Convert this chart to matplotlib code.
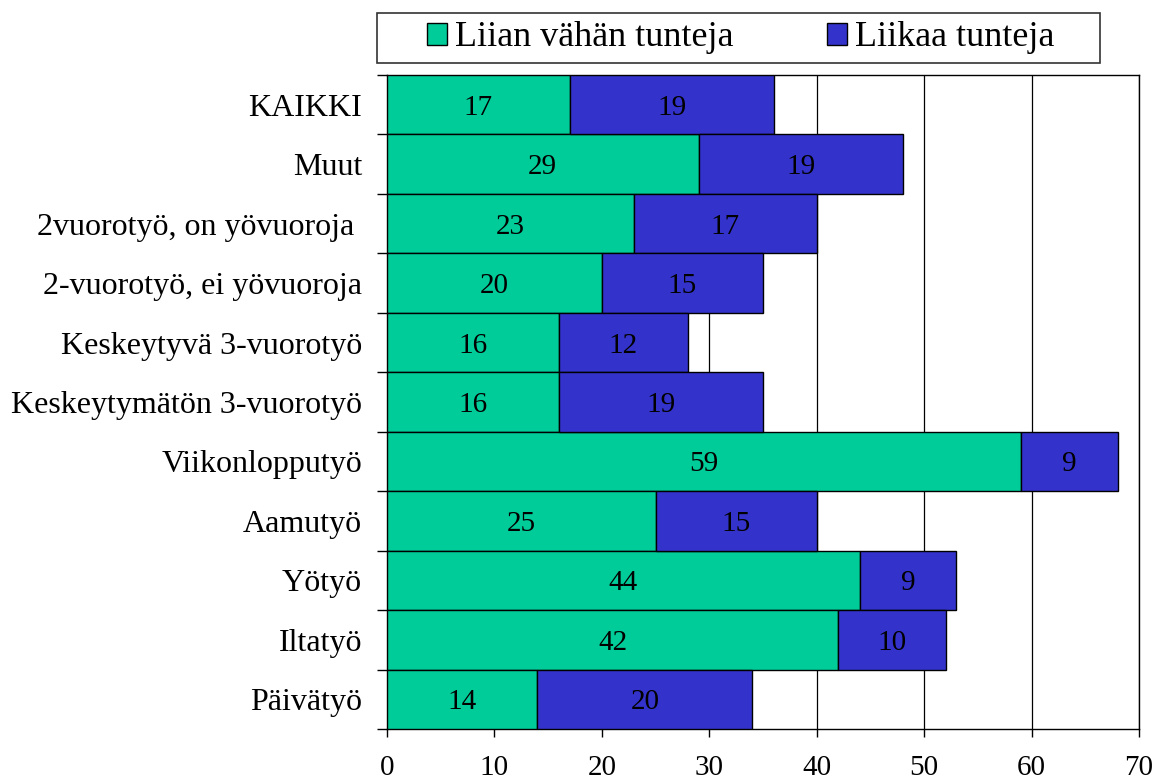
import matplotlib
matplotlib.use("Agg")
import matplotlib.pyplot as plt
from matplotlib.patches import Rectangle
import numpy as np

plt.rcParams['font.family'] = ['Liberation Serif', 'DejaVu Serif']

categories = ["KAIKKI", "Muut", "2vuorotyö, on yövuoroja ", "2-vuorotyö, ei yövuoroja",
              "Keskeytyvä 3-vuorotyö", "Keskeytymätön 3-vuorotyö", "Viikonlopputyö",
              "Aamutyö", "Yötyö", "Iltatyö", "Päivätyö"]
too_few = [17, 29, 23, 20, 16, 16, 59, 25, 44, 42, 14]
too_many = [19, 19, 17, 15, 12, 19, 9, 15, 9, 10, 20]
series_names = ["Liian vähän tunteja", "Liikaa tunteja"]
xticks = [0, 10, 20, 30, 40, 50, 60, 70]

green = "#00CC99"
blue = "#3333CC"

fig = plt.figure(figsize=(11.55, 7.8), dpi=100)
ax = fig.add_axes([387/1155, 1-729/780, (1139-387)/1155, (729-75)/780])

n = len(categories)
y = np.arange(n)[::-1]
b1 = ax.barh(y, too_few, height=1.0, color=green, edgecolor="black", linewidth=1.0, zorder=3, label=series_names[0])
b2 = ax.barh(y, too_many, left=too_few, height=1.0, color=blue, edgecolor="black", linewidth=1.0, zorder=3, label=series_names[1])
for cont in (b1, b2):
    for rect, val in zip(cont, cont.datavalues):
        ax.text(rect.get_x() + rect.get_width() / 2, rect.get_y() + rect.get_height() / 2,
                f"{val:g}", ha="center", va="center_baseline", fontsize=21, zorder=4)

ax.set_xlim(0, 70)
ax.set_ylim(-0.5, n - 0.5)
ax.set_xticks(xticks)
ax.set_xticklabels([str(v) for v in xticks], fontsize=21)
ax.xaxis.grid(True, color="black", linewidth=0.9, zorder=0)
ax.set_yticks(y)
ax.set_yticklabels(categories, fontsize=23)
ax.tick_params(axis='y', length=0, pad=18)
ax.set_yticks(np.arange(-0.5, n, 1.0), minor=True)
ax.tick_params(axis='y', which='minor', length=7, width=1, direction='out')
ax.tick_params(axis='x', length=6, width=1, direction='out', pad=13)
for s in ax.spines.values():
    s.set_linewidth(1.0)
    s.set_color("black")

# legend frame
fig.patches.append(Rectangle((377/1155, 1-63/780), 723/1155, 50/780, transform=fig.transFigure,
                             facecolor="white", edgecolor="#333333", linewidth=1.2))
leg = fig.legend(handles=[b1, b2], labels=series_names, loc="center left",
                 bbox_to_anchor=(427/1155, 1-38/780), ncol=2, frameon=False, fontsize=26,
                 handlelength=0.55, handleheight=0.55, handletextpad=0.22, columnspacing=2.6,
                 borderpad=0, borderaxespad=0)

fig.savefig("out.png", dpi=100)
